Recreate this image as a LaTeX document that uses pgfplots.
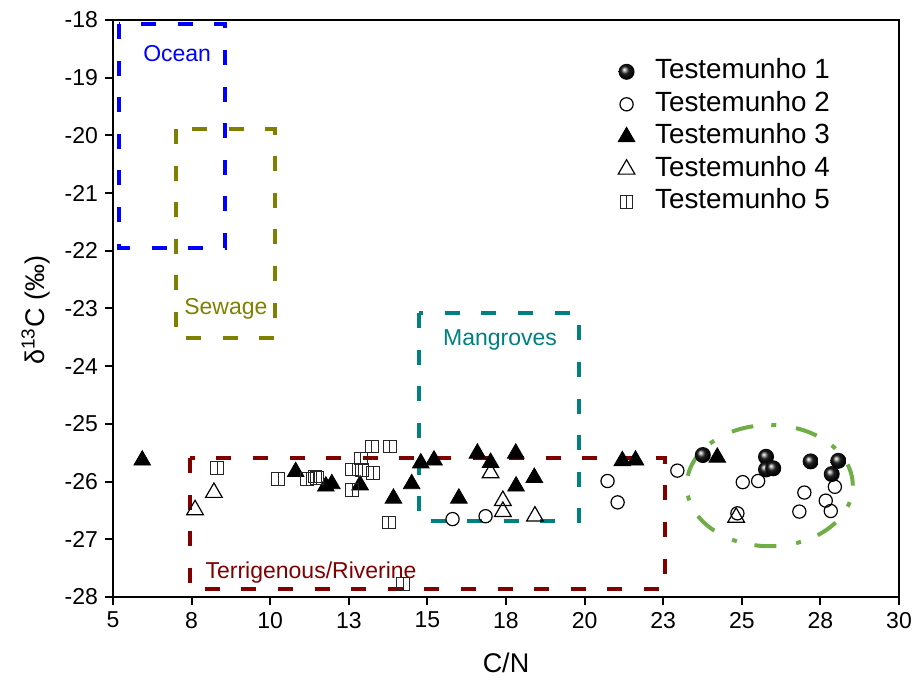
\documentclass[border=0pt]{standalone}
\usepackage{fontspec}
\setmainfont{Liberation Sans}
\usepackage{pgfplots}
\pgfplotsset{compat=1.18}

\definecolor{oceanblue}{RGB}{0,0,255}
\definecolor{sewageolive}{RGB}{128,128,0}
\definecolor{mangroveteal}{RGB}{0,128,128}
\definecolor{terrired}{RGB}{128,0,0}
\definecolor{clustergreen}{RGB}{112,173,71}

% shaded black sphere
\pgfdeclareradialshading{blackball}{\pgfpoint{-8bp}{8bp}}{%
  color(0bp)=(white); color(3bp)=(white!80!black); color(12bp)=(black!88);
  color(25bp)=(black); color(50bp)=(black)}
\pgfdeclareplotmark{ball}{%
  \pgfpathcircle{\pgfpointorigin}{\pgfplotmarksize}%
  \pgfshadepath{blackball}{0}%
  \pgfusepath{}}
% square split by a vertical bar
\pgfdeclareplotmark{sqbar}{%
  \pgfpathrectangle{\pgfqpoint{-\pgfplotmarksize}{-\pgfplotmarksize}}{\pgfqpoint{2\pgfplotmarksize}{2\pgfplotmarksize}}%
  \pgfpathmoveto{\pgfqpoint{0pt}{-\pgfplotmarksize}}%
  \pgfpathlineto{\pgfqpoint{0pt}{\pgfplotmarksize}}%
  \pgfusepathqstroke}
% triangles
\pgfdeclareplotmark{tri}{%
  \pgfpathmoveto{\pgfqpointpolar{90}{\pgfplotmarksize}}%
  \pgfpathlineto{\pgfqpointpolar{210}{\pgfplotmarksize}}%
  \pgfpathlineto{\pgfqpointpolar{330}{\pgfplotmarksize}}%
  \pgfpathclose\pgfusepathqstroke}
\pgfdeclareplotmark{trifill}{%
  \pgfpathmoveto{\pgfqpointpolar{90}{\pgfplotmarksize}}%
  \pgfpathlineto{\pgfqpointpolar{210}{\pgfplotmarksize}}%
  \pgfpathlineto{\pgfqpointpolar{330}{\pgfplotmarksize}}%
  \pgfpathclose\pgfusepathqfillstroke}

\pgfplotstableread{
x y
23.76 -25.54
25.77 -25.57
25.77 -25.79
26.00 -25.77
27.19 -25.65
28.07 -25.64
27.86 -25.87
}\testA
\pgfplotstableread{
x y
15.80 -26.65
16.85 -26.60
20.73 -25.99
21.05 -26.36
22.95 -25.81
24.86 -26.55
25.03 -26.01
25.52 -25.99
26.83 -26.52
26.99 -26.19
27.67 -26.33
27.83 -26.51
27.96 -26.09
}\testB
\pgfplotstableread{
x y
5.93 -25.63
10.81 -25.83
11.77 -26.08
11.96 -26.04
12.86 -26.06
13.92 -26.29
14.50 -26.04
14.79 -25.68
15.21 -25.63
16.00 -26.29
16.59 -25.51
17.01 -25.67
17.81 -25.51
17.82 -26.08
18.40 -25.93
21.20 -25.64
21.62 -25.63
24.22 -25.58
}\testC
\pgfplotstableread{
x y
7.61 -26.49
8.21 -26.19
17.01 -25.85
17.40 -26.33
17.40 -26.52
18.42 -26.60
24.82 -26.62
}\testD
\pgfplotstableread{
x y
8.32 -25.76
10.26 -25.95
11.16 -25.95
11.42 -25.91
11.48 -25.94
12.61 -25.79
12.88 -25.60
12.93 -25.80
13.23 -25.39
13.28 -25.85
13.81 -25.39
12.61 -26.15
13.77 -26.71
14.23 -27.77
}\testE

\begin{document}
\begin{tikzpicture}
\begin{axis}[
  at={(0,0)}, anchor=south west,
  scale only axis, width=393pt, height=288.5pt,
  xmin=5, xmax=30, ymin=-28, ymax=-18,
  xtick={5,7.5,...,30},
  xticklabels={5,8,10,13,15,18,20,23,25,28,30},
  ytick={-28,-27,...,-18},
  yticklabels={-28,-27,-26,-25,-24,-23,-22,-21,-20,-19,-18},
  xtick pos=bottom, ytick pos=left,
  tick align=outside, major tick length=4pt,
  axis line style={line width=1pt},
  every tick/.style={line width=1pt, black},
  tick label style={font=\fontsize{11.5}{13}\selectfont},
  label style={font=\fontsize{13.5}{16}\selectfont},
  xlabel={C/N},
  ylabel={δ\textsuperscript{13}C (‰)},
  xlabel style={at={(axis description cs:0.5,-0.114)}, anchor=center},
  ylabel style={at={(axis description cs:-0.098,0.497)}, anchor=center},
  legend style={at={(axis description cs:0.632,0.946)}, anchor=north west,
    draw=none, fill=none, font=\fontsize{13.9}{16}\selectfont,
    nodes={text height=10pt, text depth=3.05pt, inner sep=1.6pt},
    row sep=0pt},
  legend cell align=left,
  legend image code/.code={\draw[#1] plot coordinates {(0pt,0pt)}; \path (-5pt,0pt) (12.5pt,0pt);},
  boxline/.style={line width=2pt, dash pattern=on 7.5pt off 10.8pt},
]
\addplot[only marks, mark=ball, mark size=4pt] table {\testA};
\addlegendentry{Testemunho 1}
\addplot[only marks, mark=o, mark size=3.3pt, mark options={line width=0.6pt, draw=black}] table {\testB};
\addlegendentry{Testemunho 2}
\addplot[only marks, mark=trifill, mark size=4.8pt, mark options={line width=0.4pt, draw=black, fill=black}] table {\testC};
\addlegendentry{Testemunho 3}
\addplot[only marks, mark=tri, mark size=4.8pt, mark options={line width=0.6pt, draw=black}] table {\testD};
\addlegendentry{Testemunho 4}
\addplot[only marks, mark=sqbar, mark size=3.2pt, mark options={line width=0.5pt, draw=black!85}] table {\testE};
\addlegendentry{Testemunho 5}

% source end-member fields
\addplot[forget plot, boxline, oceanblue] coordinates {(5.2,-18.07) (5.2,-21.95) (8.56,-21.95) (8.56,-18.07) (5.2,-18.07)};
\addplot[forget plot, boxline, sewageolive] coordinates {(7.0,-19.89) (7.0,-23.52) (10.15,-23.52) (10.15,-19.89) (7.0,-19.89)};
\addplot[forget plot, boxline, mangroveteal] coordinates {(14.74,-23.08) (14.74,-26.69) (19.82,-26.69) (19.82,-23.08) (14.74,-23.08)};
\addplot[forget plot, boxline, terrired] coordinates {(7.45,-25.59) (7.45,-27.87) (22.55,-27.87) (22.55,-25.59) (7.45,-25.59)};
\draw[clustergreen, line width=2pt, dash pattern=on 11pt off 10pt on 2.5pt off 9pt]
  (axis cs:25.89,-26.07) ellipse [x radius=2.64, y radius=1.05];

\node[oceanblue, font=\fontsize{11.5}{13}\selectfont] at (axis cs:7.04,-18.59) {Ocean};
\node[sewageolive, font=\fontsize{11.5}{13}\selectfont] at (axis cs:8.59,-23.01) {Sewage};
\node[mangroveteal, font=\fontsize{11.5}{13}\selectfont] at (axis cs:17.31,-23.55) {Mangroves};
\node[terrired, font=\fontsize{11.5}{13}\selectfont] at (axis cs:11.30,-27.58) {Terrigenous/Riverine};
\end{axis}
\pgfresetboundingbox
\path[use as bounding box] (-56.5pt,-43.5pt) rectangle (400.5pt,298.5pt);
\end{tikzpicture}
\end{document}
